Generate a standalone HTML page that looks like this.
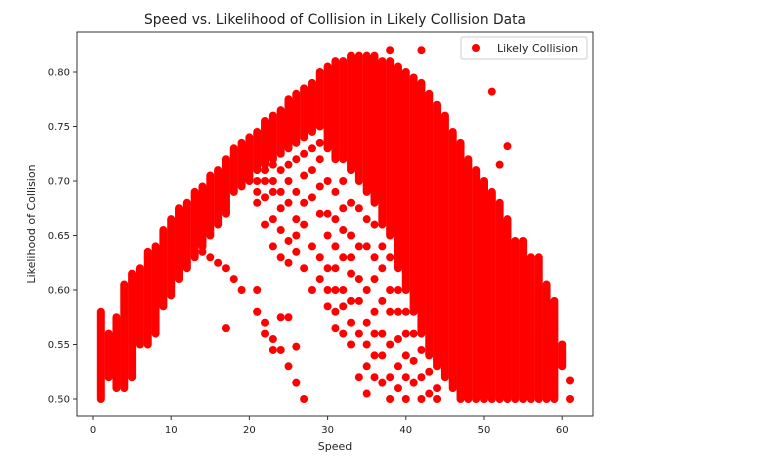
<!DOCTYPE html>
<html><head><meta charset="utf-8"><style>
html,body{margin:0;padding:0;background:#fff}
svg text{font-family:"DejaVu Sans","Liberation Sans",sans-serif;fill:#222}
</style></head><body>
<svg id="chart" width="764" height="461" xmlns="http://www.w3.org/2000/svg">
<text x="335" y="24" font-size="14" text-anchor="middle" textLength="382" lengthAdjust="spacingAndGlyphs">Speed vs. Likelihood of Collision in Likely Collision Data</text>
<g id="marks"></g>
<g id="axes"></g>
<rect x="77" y="32" width="516" height="384" fill="none" stroke="#333" stroke-width="1"/>
<text x="335" y="450" font-size="11" text-anchor="middle">Speed</text>
<text x="0" y="0" font-size="11" text-anchor="middle" transform="translate(35,224) rotate(-90)">Likelihood of Collision</text>
<g>
<rect x="461" y="37" width="126" height="22" rx="2" fill="#fff" stroke="#ccc"/>
<circle cx="476" cy="48" r="4" fill="#ff0000"/>
<text x="497" y="52" font-size="11">Likely Collision</text>
</g>
</svg>
<script>
// dense bands per speed
const bandSpeeds = [1,2,3,4,5,6,7,8,9,10,11,12,13,14,15,16,17,18,19,20,21,22,23,24,25,26,27,28,29,30,31,32,33,34,35,36,37,38,39,40,41,42,43,44,45,46,47,48,49,50,51,52,53,54,55,56,57,58,59,60];
const bandLow = [0.50,0.52,0.51,0.51,0.52,0.55,0.55,0.56,0.585,0.595,0.61,0.62,0.63,0.64,0.65,0.66,0.67,0.69,0.695,0.70,0.71,0.715,0.72,0.725,0.73,0.735,0.74,0.745,0.75,0.73,0.72,0.72,0.71,0.70,0.69,0.68,0.66,0.65,0.62,0.60,0.58,0.56,0.54,0.53,0.52,0.51,0.50,0.50,0.50,0.50,0.50,0.50,0.50,0.50,0.50,0.50,0.50,0.50,0.50,0.53];
const bandHigh = [0.58,0.56,0.575,0.605,0.615,0.62,0.635,0.64,0.655,0.665,0.675,0.68,0.69,0.695,0.705,0.71,0.72,0.73,0.735,0.74,0.745,0.755,0.76,0.765,0.775,0.78,0.785,0.79,0.80,0.805,0.81,0.81,0.815,0.815,0.815,0.815,0.81,0.81,0.805,0.80,0.795,0.79,0.78,0.77,0.76,0.745,0.735,0.72,0.71,0.70,0.69,0.68,0.665,0.645,0.645,0.63,0.63,0.605,0.59,0.55];
// sparse individual points
const pointSpeeds = [13,14,15,16,17,18,19,21,22,23,24,25,26,27,17,24,25,26,
21,21,21,21,21,22,22,22,22,22,23,23,23,23,23,23,24,24,24,24,24,25,25,25,25,25,26,26,26,26,26,27,27,27,27,27,28,28,28,28,28,29,29,29,29,29,29,
30,30,30,30,30,30,31,31,31,31,31,31,31,32,32,32,32,32,32,32,33,33,33,33,33,33,33,34,34,34,34,34,34,35,35,35,35,35,35,35,36,36,36,36,36,36,36,37,37,37,37,37,37,38,38,38,38,38,38,39,39,39,39,39,40,40,40,40,40,41,41,41,42,42,42,43,43,44,44,
42,51,53,52,38,61,61,59,58];
const pointValues = [0.635,0.635,0.63,0.625,0.62,0.61,0.60,0.58,0.57,0.555,0.545,0.53,0.515,0.50,0.565,0.575,0.575,0.548,
0.70,0.69,0.68,0.60,0.58,0.71,0.70,0.685,0.66,0.56,0.715,0.70,0.69,0.665,0.64,0.545,0.71,0.69,0.675,0.655,0.63,0.715,0.70,0.68,0.645,0.625,0.72,0.69,0.665,0.65,0.635,0.725,0.705,0.68,0.66,0.62,0.73,0.71,0.685,0.64,0.60,0.735,0.72,0.695,0.67,0.63,0.61,
0.70,0.67,0.65,0.62,0.60,0.585,0.69,0.665,0.64,0.62,0.60,0.58,0.565,0.70,0.675,0.655,0.63,0.60,0.585,0.56,0.68,0.65,0.63,0.615,0.59,0.57,0.55,0.675,0.64,0.61,0.59,0.56,0.52,0.665,0.64,0.60,0.57,0.55,0.53,0.505,0.66,0.63,0.61,0.58,0.56,0.54,0.52,0.64,0.62,0.59,0.56,0.54,0.515,0.63,0.60,0.58,0.55,0.52,0.50,0.60,0.58,0.555,0.53,0.51,0.58,0.56,0.54,0.52,0.50,0.56,0.535,0.515,0.545,0.52,0.50,0.525,0.505,0.51,0.50,
0.82,0.782,0.732,0.715,0.82,0.517,0.50,0.565,0.57];
const xTicks = [0,10,20,30,40,50,60];
const yTicks = [0.50,0.55,0.60,0.65,0.70,0.75,0.80];

const NS='http://www.w3.org/2000/svg';
function xScale(s){return 93 + s*7.82;}
function yScale(v){return 399 - (v-0.50)*1090;}
const marks=document.getElementById('marks');
const axes=document.getElementById('axes');
for(let i=0;i<bandSpeeds.length;i++){
  const l=document.createElementNS(NS,'line');
  
  
  const x=xScale(bandSpeeds[i]);
  l.setAttribute('x1',x);l.setAttribute('x2',x);
  l.setAttribute('y1',yScale(bandLow[i]));l.setAttribute('y2',yScale(bandHigh[i]));
  l.setAttribute('stroke','#ff0000');l.setAttribute('stroke-width','8');l.setAttribute('stroke-linecap','round');
  marks.appendChild(l);
}
for(let i=0;i<pointSpeeds.length;i++){
  const c=document.createElementNS(NS,'circle');
  
  
  c.setAttribute('cx',xScale(pointSpeeds[i]));c.setAttribute('cy',yScale(pointValues[i]));
  c.setAttribute('r','4');c.setAttribute('fill','#ff0000');
  marks.appendChild(c);
}
for(const t of xTicks){
  const x=xScale(t);
  const ln=document.createElementNS(NS,'line');
  
  
  ln.setAttribute('x1',x);ln.setAttribute('x2',x);ln.setAttribute('y1',416);ln.setAttribute('y2',420);ln.setAttribute('stroke','#333');
  axes.appendChild(ln);
  const tx=document.createElementNS(NS,'text');
  
  
  tx.setAttribute('x',x);tx.setAttribute('y',433);tx.setAttribute('font-size','10');tx.setAttribute('text-anchor','middle');
  tx.textContent=t;
  axes.appendChild(tx);
}
for(const t of yTicks){
  const y=yScale(t);
  const ln=document.createElementNS(NS,'line');
  
  
  ln.setAttribute('x1',73);ln.setAttribute('x2',77);ln.setAttribute('y1',y);ln.setAttribute('y2',y);ln.setAttribute('stroke','#333');
  axes.appendChild(ln);
  const tx=document.createElementNS(NS,'text');
  
  
  tx.setAttribute('x',70);tx.setAttribute('y',y+3.5);tx.setAttribute('font-size','10');tx.setAttribute('text-anchor','end');
  tx.textContent=t.toFixed(2);
  axes.appendChild(tx);
}
</script>
</body></html>
